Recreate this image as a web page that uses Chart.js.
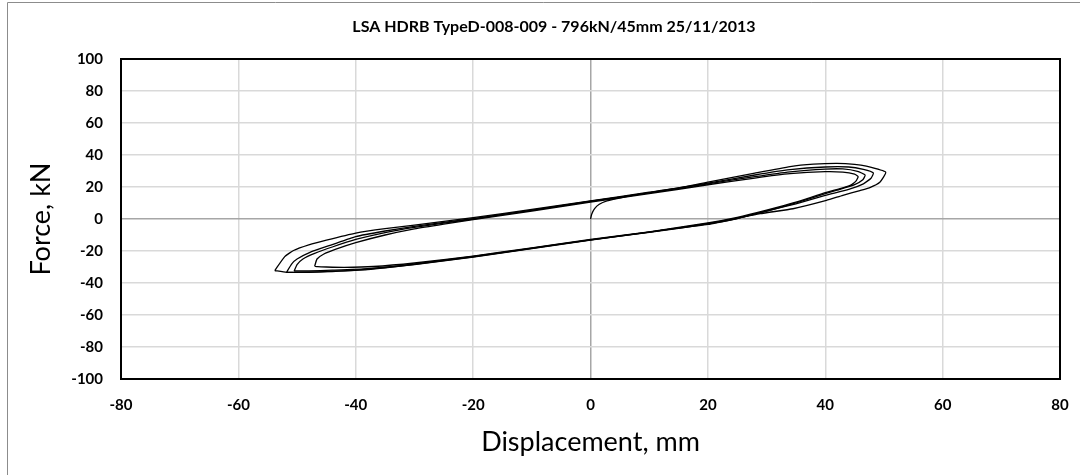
<!DOCTYPE html>
<html>
<head>
<meta charset="utf-8">
<script src="https://cdn.jsdelivr.net/npm/chart.js@4/dist/chart.umd.min.js"></script>
<style>
  html, body { margin: 0; padding: 0; background: #fff; }
  #wrap { width: 1080px; height: 475px; }
</style>
</head>
<body>
<div id="wrap"><canvas id="hysteresis" width="1080" height="475"></canvas></div>
<script>
const chartTitle = 'LSA HDRB TypeD-008-009 - 796kN/45mm 25/11/2013';
const xTitle = 'Displacement, mm';
const yTitle = 'Force, kN';

// displacement (mm), force (kN) pairs
const initialLoad = [[0, 0], [0.2, 3], [0.7, 6.5], [1.5, 9.2], [2.8, 11.3], [4.5, 12.8], [6.5, 14.3], [8, 15.2]];

const cycle1 = [
  [-47, -29.5], [-46.6, -25], [-45.5, -22], [-43.5, -19], [-40, -14.8], [-35, -10], [-30, -6.2], [-25, -3.2],
  [-20, -0.4], [-10, 5], [0, 10.6], [10, 15.8], [20, 21.4], [28, 25.6], [34, 28.3], [40, 29.6], [43, 29.3],
  [45, 28], [45.6, 26.5],
  [45.3, 24], [44.5, 21.5], [43, 19.5], [40, 16.5], [35, 10.5], [30, 5.5], [25, 1], [20, -2.5], [10, -8],
  [0, -12.8], [-10, -18], [-20, -23.2], [-30, -27.5], [-37, -29.7], [-42, -30.2], [-45, -30], [-46.5, -29.8], [-47, -29.5]
];

const cycle2 = [
  [-50.5, -32.5], [-50, -28.5], [-49, -25], [-47, -21.5], [-44, -17.5], [-40, -12.8], [-35, -8.5], [-30, -5.3],
  [-20, 0], [-10, 5.4], [0, 11], [10, 16.3], [20, 22], [28, 26.5], [34, 29.5], [40, 31.2], [43, 31.3],
  [45.5, 29.8], [46.8, 27.5],
  [46.4, 24.5], [45, 21.5], [42, 18], [40, 15.8], [35, 10], [30, 5], [25, 0.5], [20, -2.8], [10, -8.2],
  [0, -13], [-10, -18.2], [-20, -23.4], [-30, -28], [-38, -31], [-44, -32], [-48, -32.5], [-50.5, -32.5]
];

const cycle3 = [
  [-51.8, -33.3], [-50.9, -28], [-50, -25], [-47.8, -20.8], [-44, -16], [-40, -11], [-35, -7.5], [-30, -4.6],
  [-20, 0.3], [-10, 5.6], [0, 11.1], [10, 16.4], [20, 22.4], [28, 27.5], [34, 30.8], [40, 32.5], [44, 32.5],
  [46.5, 31], [48.2, 28.8],
  [47.8, 25.5], [46.5, 22], [44, 18.5], [40, 14.8], [35, 9.5], [30, 5], [25, 0.3], [20, -3.1], [10, -8.4],
  [0, -13.1], [-10, -18.4], [-20, -23.6], [-30, -28.3], [-38, -31.6], [-44, -32.8], [-48, -33.3], [-51.8, -33.3]
];

const cycle4 = [
  [-53.8, -32.2], [-52.1, -23.5], [-50.6, -19.7], [-48, -16.2], [-45, -13.2], [-40, -8.8], [-35, -6], [-30, -3.8],
  [-20, 0.8], [-10, 6], [0, 11.3], [10, 16.8], [15, 19.5], [20, 23], [28, 28.7], [34, 32.8], [38, 34.3],
  [42, 34.8], [45, 34.2], [47, 33], [50.3, 29.3],
  [49.3, 23], [47.5, 19.5], [45.9, 17.8], [43, 14.8], [40.2, 11.6], [34.5, 6.4], [28.9, 3.3], [20, -3.4],
  [11.8, -7.2], [0, -13.2], [-10, -18.5], [-20, -23.8], [-30, -28.5], [-40, -32], [-46, -33], [-50, -33.4],
  [-51.8, -33.3], [-53.8, -32.2]
];

const xTicks = [-80, -60, -40, -20, 0, 20, 40, 60, 80];
const yTicks = [-100, -80, -60, -40, -20, 0, 20, 40, 60, 80, 100];

const FONT = 'Lato, "Open Sans", sans-serif';

function toPoints(pairs) {
  return pairs.map(p => ({ x: p[0], y: p[1] }));
}

function loopDataset(pairs) {
  return {
    data: toPoints(pairs),
    borderColor: '#000',
    borderWidth: 1.3,
    pointRadius: 0,
    showLine: true,
    tension: 0.15,
    fill: false
  };
}

// frame round the whole chart, plot box border and heading
const framePlugin = {
  id: 'frame',
  beforeDraw(chart) {
    const ctx = chart.ctx;
    ctx.save();
    ctx.strokeStyle = '#8c8c8c';
    ctx.lineWidth = 1;
    ctx.beginPath();
    ctx.moveTo(7.5, 475);
    ctx.lineTo(7.5, 2.5);
    ctx.lineTo(1080, 2.5);
    ctx.stroke();
    ctx.restore();
  },
  afterDraw(chart) {
    const { ctx, chartArea } = chart;
    ctx.save();
    ctx.strokeStyle = '#000';
    ctx.lineWidth = 2;
    ctx.strokeRect(chartArea.left, chartArea.top, chartArea.right - chartArea.left, chartArea.bottom - chartArea.top);
    ctx.fillStyle = '#000';
    ctx.font = 'bold 16px ' + FONT;
    ctx.textAlign = 'center';
    ctx.textBaseline = 'middle';
    ctx.fillText(chartTitle, 554, 27);
    ctx.restore();
  }
};

const ctx = document.getElementById('hysteresis');
new Chart(ctx, {
  type: 'scatter',
  data: {
    datasets: [
      loopDataset(initialLoad),
      loopDataset(cycle1),
      loopDataset(cycle2),
      loopDataset(cycle3),
      loopDataset(cycle4)
    ]
  },
  options: {
    responsive: false,
    animation: false,
    devicePixelRatio: 1,
    layout: { padding: { top: 59, right: 20, bottom: 0, left: 0 } },
    plugins: {
      legend: { display: false },
      tooltip: { enabled: false }
    },
    scales: {
      x: {
        type: 'linear',
        min: -80,
        max: 80,
        afterBuildTicks: scale => { scale.ticks = xTicks.map(v => ({ value: v })); },
        afterFit: scale => {
          scale.height = 96;
          scale.paddingLeft = 0;
          scale.paddingRight = 0;
        },
        grid: {
          color: c => (c.tick && c.tick.value === 0 ? '#a6a6a6' : '#d9d9d9'),
          lineWidth: 1.5,
          drawTicks: false
        },
        border: { display: false },
        ticks: {
          color: '#000',
          padding: 17,
          font: { family: FONT, size: 15, weight: 'bold' }
        },
        title: {
          display: true,
          text: xTitle,
          color: '#000',
          padding: { top: 0, bottom: 17 },
          font: { family: FONT, size: 27 }
        }
      },
      y: {
        type: 'linear',
        min: -100,
        max: 100,
        afterBuildTicks: scale => { scale.ticks = yTicks.map(v => ({ value: v })); },
        afterFit: scale => { scale.width = 121; },
        grid: {
          color: c => (c.tick && c.tick.value === 0 ? '#a6a6a6' : '#d9d9d9'),
          lineWidth: 1.5,
          drawTicks: false
        },
        border: { display: false },
        ticks: {
          color: '#000',
          padding: 18,
          font: { family: FONT, size: 15, weight: 'bold' }
        },
        title: {
          display: true,
          text: yTitle,
          color: '#000',
          padding: { top: 25, bottom: 0 },
          font: { family: FONT, size: 27 }
        }
      }
    }
  },
  plugins: [framePlugin]
});
</script>
</body>
</html>
